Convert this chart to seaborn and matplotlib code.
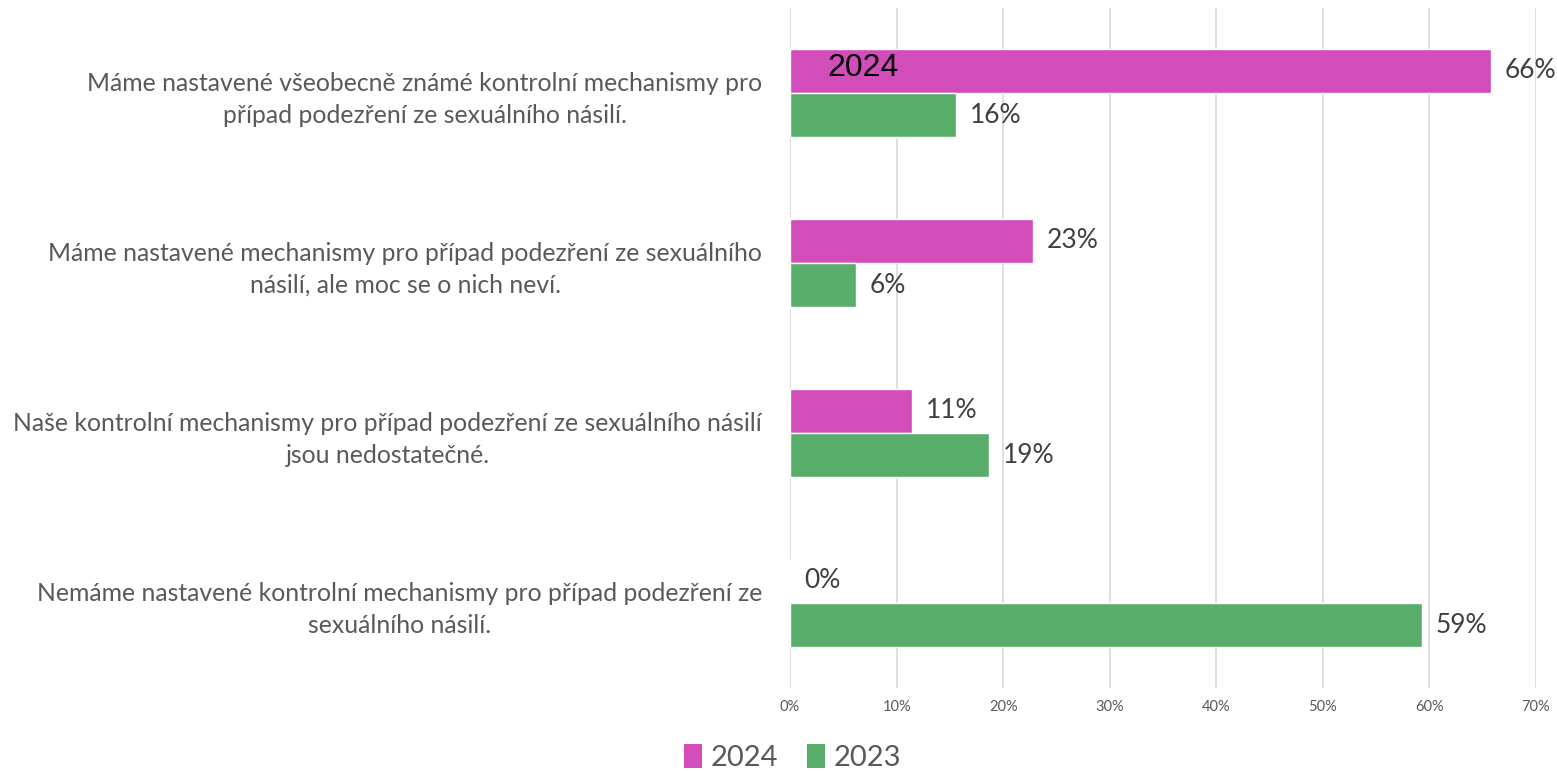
import matplotlib
matplotlib.use("Agg")
import matplotlib.pyplot as plt
import seaborn as sns
import pandas as pd
from matplotlib.patches import Patch

categories = [
    "Máme nastavené všeobecně známé kontrolní mechanismy pro\npřípad podezření ze sexuálního násilí.",
    "Máme nastavené mechanismy pro případ podezření ze sexuálního\nnásilí, ale moc se o nich neví.",
    "Naše kontrolní mechanismy pro případ podezření ze sexuálního násilí\njsou nedostatečné.",
    "Nemáme nastavené kontrolní mechanismy pro případ podezření ze\nsexuálního násilí.",
]
values_2024 = [65.8, 22.8, 11.4, 0.0]
values_2023 = [15.6, 6.2, 18.7, 59.3]
series = ["2024", "2023"]
xticks = [0, 10, 20, 30, 40, 50, 60, 70]

colors = {"2024": "#D34DBA", "2023": "#59AD6A"}

df = pd.DataFrame({
    "cat": categories * 2,
    "value": values_2024 + values_2023,
    "year": ["2024"] * len(categories) + ["2023"] * len(categories),
})

sns.set_theme(style="white")
plt.rcParams["font.family"] = ["Lato", "DejaVu Sans"]

fig = plt.figure(figsize=(15.57, 7.71), dpi=100)
ax = fig.add_axes([0.5074, 0.1077, 0.9865 - 0.5074, 0.9896 - 0.1077])

sns.barplot(data=df, y="cat", x="value", hue="year", hue_order=series,
            order=categories, palette=colors, orient="h", width=0.52,
            saturation=1, ax=ax, legend=False, errorbar=None)

ax.set_xlim(0, 70)
ax.set_xticks(xticks)
ax.set_xticklabels([f"{t}%" for t in xticks], fontsize=10.5, color="#595959")
ax.tick_params(axis="x", length=0, pad=9)
ax.tick_params(axis="y", length=0, pad=20)
for lbl in ax.get_yticklabels():
    lbl.set_fontsize(17.8)
    lbl.set_color("#595959")
    lbl.set_multialignment("center")
    lbl.set_linespacing(1.45)
ax.set_xlabel("")
ax.set_ylabel("")
ax.grid(axis="x", color="#D9D9D9", linewidth=1.2)
ax.set_axisbelow(True)
for s in ax.spines.values():
    s.set_visible(False)

for cont in ax.containers:
    ax.bar_label(cont, labels=[f"{v:.0f}%" for v in cont.datavalues],
                 padding=10, fontsize=19, color="#404040")

# overlaid black label on first 2024 bar
first_bar = ax.containers[0][0]
ax.text(first_bar.get_x() + 3.5, first_bar.get_y() + first_bar.get_height() / 2 - 0.02,
        "2024", fontsize=23, color="black", ha="left", va="center",
        family=["Liberation Sans", "DejaVu Sans"])

handles = [Patch(facecolor=colors[s], edgecolor="none") for s in series]
fig.legend(handles, series, loc="center", bbox_to_anchor=(0.509, 0.018),
           ncol=2, frameon=False, fontsize=21, handlelength=0.6,
           handleheight=0.9, handletextpad=0.3, columnspacing=1.0,
           labelcolor="#595959")

fig.savefig("out.png", dpi=100)
